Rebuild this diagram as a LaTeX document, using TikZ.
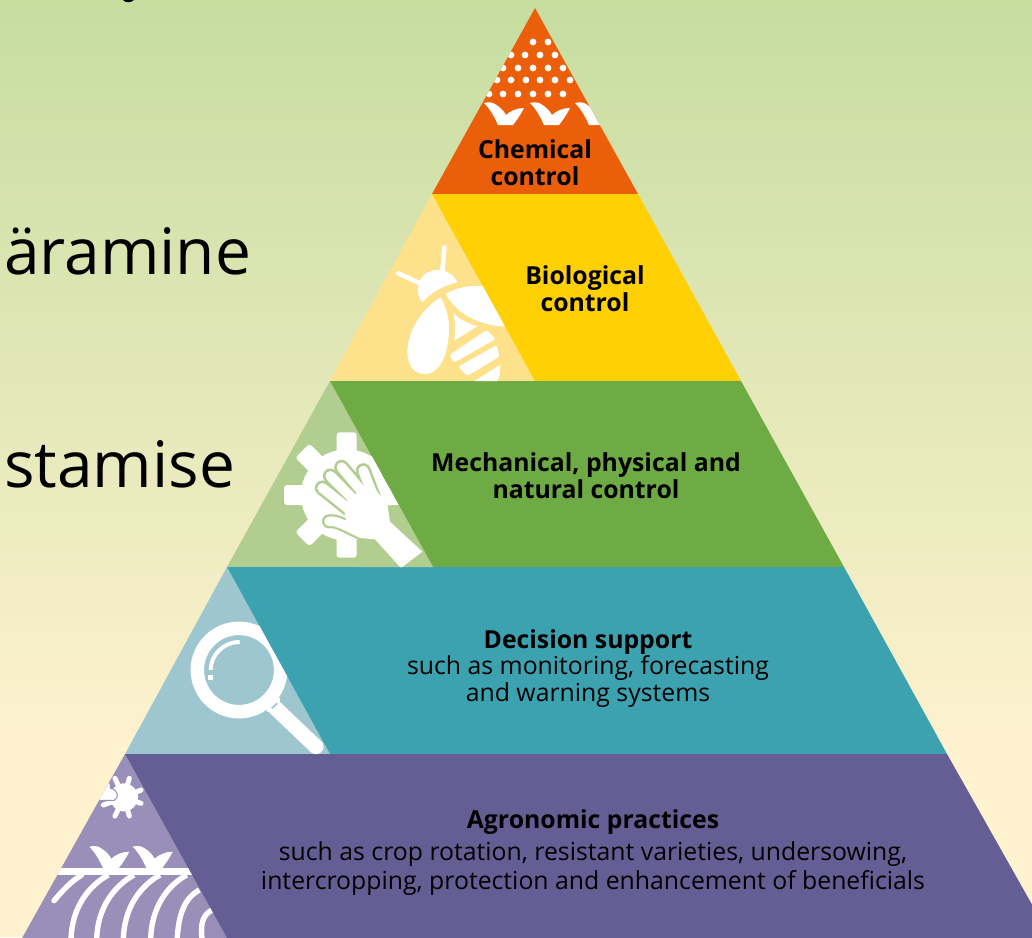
\documentclass[tikz,border=0pt]{standalone}
\usepackage{fontspec}
\setmainfont{Open Sans}
\definecolor{bgtop}{HTML}{C6DDA0}
\definecolor{bgbot}{HTML}{FFF2CF}
\definecolor{chemc}{HTML}{EC5F0A}
\definecolor{bioc}{HTML}{FFD105}
\definecolor{biol}{HTML}{FEE18B}
\definecolor{mechc}{HTML}{6FAB44}
\definecolor{mechl}{HTML}{B2CD90}
\definecolor{decc}{HTML}{3CA2B0}
\definecolor{decl}{HTML}{9EC6CF}
\definecolor{agrc}{HTML}{655E94}
\definecolor{agrl}{HTML}{9A8FB8}
\tikzset{
  x=1pt,y=-1pt,
  lab/.style={align=center,inner sep=0pt,text=black,font=\fontsize{24.8}{26.8}\selectfont},
  big/.style={anchor=base west,inner sep=0pt,text=black,font=\fontsize{64}{70}\selectfont},
  sproutmark/.pic={\fill[white] (0,0) .. controls (4,-1) and (8,-1) .. (11,1) .. controls (16,4) and (20,8) .. (22,12)
     .. controls (26,8) and (33,5) .. (40,5) .. controls (37,11) and (33,17) .. (29,22) -- (14,22) .. controls (10,13) and (6,6) .. (0,0) -- cycle;}
}
\begin{document}
\begin{tikzpicture}
\useasboundingbox (0,0) rectangle (1032,937);
\clip (0,0) rectangle (1032,937);
\fill[top color=bgtop,bottom color=bgbot,shading angle=0] (0,0) rectangle (1032,755);
\fill[bgbot] (0,754) rectangle (1032,937);
% left fragments
\fill[black] (123,0) .. controls (125,3) and (131,3) .. (134,0) -- cycle;
\node[big] (w1) at (4,274) {äramine};
\node[big] (w2) at (4,487) {stamise};
% bands
\fill[chemc] (535,8) -- (638,194) -- (432,194) -- cycle;
\fill[biol] (432,194) -- (535,381) -- (330,381) -- cycle;
\fill[bioc] (432,194) -- (638,194) -- (741,381) -- (535,381) -- cycle;
\fill[mechl] (330,381) -- (433,567) -- (227,567) -- cycle;
\fill[mechc] (330,381) -- (741,381) -- (844,567) -- (433,567) -- cycle;
\fill[decl] (227,567) -- (330,754) -- (125,754) -- cycle;
\fill[decc] (227,567) -- (844,567) -- (947,754) -- (330,754) -- cycle;
\fill[agrl] (125,754) -- (228,940) -- (21,940) -- cycle;
\fill[agrc] (125,754) -- (947,754) -- (1052,940) -- (228,940) -- cycle;
% chemical icon
\begin{scope}
\clip (535,8) -- (638,194) -- (432,194) -- cycle;
\foreach \px/\py in {533/42,548/42,
  511/55,525/55,540/55,555/55,
  503/68,518/68,533/68,548/68,563/68,
  497/80,511/80,526/80,540/80,555/80,570/80,
  489/94,503/94,518/94,533/94,548/94,563/94}
  \fill[white] (\px,\py) circle (3.4);
\pic at (484,103) {sproutmark};
\pic at (530,103) {sproutmark};
\pic at (575,103) {sproutmark};
\end{scope}
% bee
\begin{scope}
\clip (432,194) -- (535,381) -- (330,381) -- cycle;
\begin{scope}[shift={(330,190)},scale=1/3]
\draw[white,line width=4.6pt,line cap=round] (275,282) -- (205,250);
\draw[white,line width=4.6pt,line cap=round] (337,245) -- (343,172);
\fill[white] (277,337) .. controls (262,320) and (260,295) .. (268,275) .. controls (280,245) and (320,230) .. (350,245) .. controls (365,252) and (378,265) .. (382,277) .. controls (345,285) and (305,305) .. (277,337) -- cycle;
\fill[white] (332,322) .. controls (270,360) and (232,430) .. (232,485) .. controls (232,530) and (255,552) .. (285,552) .. controls (335,552) and (358,480) .. (357,410) .. controls (356,375) and (345,345) .. (332,322) -- cycle;
\fill[white] (347,312) .. controls (385,290) and (430,283) .. (470,290) -- (540,410) .. controls (460,410) and (385,380) .. (347,312) -- cycle;
\fill[white] (370,368) .. controls (390,390) and (415,402) .. (443,408) -- (373,452) .. controls (376,420) and (376,395) .. (370,368) -- cycle;
\fill[white,rounded corners=2.5pt] (358,495) -- (470,420) -- (497,447) -- (372,518) -- cycle;
\fill[white,rounded corners=1.5pt] (385,530) -- (500,465) -- (508,500) -- (412,558) -- cycle;
\fill[white] (432,574) -- (510,525) .. controls (512,545) and (508,560) .. (500,580) -- cycle;
\end{scope}
\end{scope}
% gear and hand
\begin{scope}
\clip (330,381) -- (433,567) -- (227,567) -- cycle;
\begin{scope}[shift={(225,380)},scale=1/3]
\fill[white] (365,345) circle (137);
\foreach \ang in {0,45,...,315}
  \fill[white,rounded corners=3pt,rotate around={\ang:(365,345)}] (335,157) rectangle (395,240);
\fill[mechl] (490,376) -- (530,376) -- (640,570) -- (398,570) -- (398,492) -- (440,470) -- cycle;
\foreach \wd/\col in {15pt/mechl,10pt/white}{
  \draw[\col,line width=\wd,line cap=round] (292,324) -- (372,388);
  \draw[\col,line width=\wd,line cap=round] (316,288) -- (395,368);
  \draw[\col,line width=\wd,line cap=round] (350,262) -- (425,352);
  \draw[\col,line width=\wd,line cap=round] (415,272) -- (445,350);
}
\draw[mechl,line width=14pt,line cap=round] (312,424) .. controls (335,420) and (365,440) .. (405,458);
\draw[white,line width=9.5pt,line cap=round] (312,424) .. controls (335,420) and (365,440) .. (405,458);
\fill[white] (355,375) -- (405,330) -- (450,325) -- (488,378) -- (495,425) -- (592,515) -- (528,564) -- (450,478) -- (405,474) -- (365,435) -- cycle;
\end{scope}
\end{scope}
% magnifier
\begin{scope}
\clip (227,567) -- (330,754) -- (125,754) -- cycle;
\begin{scope}[shift={(120,565)},scale=1/3]
\draw[white,line width=13.5pt] (357,315) circle (125);
\draw[white,line width=15pt,line cap=round] (462,425) -- (588,545);
\fill[white] (440,400) -- (480,400) -- (480,440) -- (440,440) -- cycle;
\draw[decl,line width=1.6pt] (455,430) -- (472,415);
\draw[white,line width=4pt] (359,231) .. controls (310,231) and (272,270) .. (272,315);
\fill[white] (265,330) rectangle (279,344);
\end{scope}
\end{scope}
% agronomic icon
\begin{scope}
\clip (125,754) -- (228,940) -- (21,940) -- cycle;
\pic at (89.3,846.7) {sproutmark};
\pic at (132.7,846.7) {sproutmark};
\begin{scope}[shift={(10,750)},scale=1/3]
\fill[white] (342,142) circle (42);
\foreach \ex/\ey in {315/85,358/85,393/120,393/160,358/198,315/198,280/165}
  \draw[white,line width=5pt,line cap=round] (342,142) -- (\ex,\ey);
\fill[white] (260,150) -- (318,150) .. controls (328,135) and (318,118) .. (302,115) -- (295,80) -- (260,80) -- cycle;
\draw[agrl,line width=1pt] (272,151) -- (312,151) .. controls (328,145) and (326,120) .. (302,115) .. controls (300,105) and (300,95) .. (296,85);
\fill[white] (130,355) rectangle (560,375);
\draw[white,line width=5.4pt,line cap=round] (215,375) .. controls (185,392) and (155,425) .. (132,452);
\foreach \xa/\ya/\xb in {295/375/183,372/375/260,450/375/340,530/375/422,568/420/500,606/480/585}
  \draw[white,line width=5.4pt] (\xa,\ya) .. controls (\xa-55,\ya+30) and (\xb,\ya+95) .. (\xb,\ya+200);
\end{scope}
\end{scope}
% labels
\node[lab] (chem) at (535,163) {\textbf{Chemical}\\\textbf{control}};
\node[lab] (bio) at (585,289) {\textbf{Biological}\\\textbf{control}};
\node[lab] (mech) at (586,476) {\textbf{Mechanical, physical and}\\\textbf{natural control}};
\node[lab] (dec) at (588,668.5) {\textbf{Decision support}\\such as monitoring, forecasting\\and warning systems};
\node[lab] (agr) at (593,852.5) {\textbf{Agronomic practices}\\[5pt]such as crop rotation, resistant varieties, undersowing,\\[2pt]intercropping, protection and enhancement of beneficials};
\end{tikzpicture}
\end{document}
